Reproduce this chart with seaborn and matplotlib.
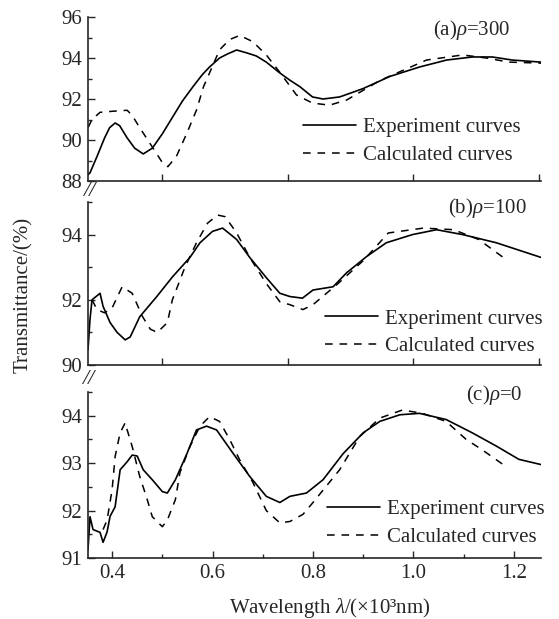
import numpy as np
import pandas as pd
import matplotlib
matplotlib.use("Agg")
import matplotlib.pyplot as plt
import seaborn as sns
from matplotlib.ticker import MultipleLocator, FixedLocator, NullFormatter

# ---------------- data ----------------
# panel (a) rho = 300
a_exp_wl = [0.352, 0.356, 0.37, 0.385, 0.395, 0.406, 0.415, 0.43, 0.445, 0.462, 0.48, 0.50, 0.52,
            0.54, 0.561, 0.58, 0.594, 0.614, 0.63, 0.648, 0.668, 0.687, 0.707, 0.734, 0.755,
            0.774, 0.799, 0.82, 0.853, 0.899, 0.953, 1.012, 1.066, 1.117, 1.157, 1.197, 1.254]
a_exp_t = [88.3, 88.4, 89.2, 90.1, 90.6, 90.83, 90.7, 90.1, 89.6, 89.32, 89.6, 90.3, 91.1,
           91.9, 92.6, 93.2, 93.56, 94.0, 94.2, 94.39, 94.25, 94.1, 93.8, 93.27, 92.9,
           92.6, 92.1, 92.0, 92.1, 92.5, 93.1, 93.56, 93.9, 94.05, 94.05, 93.9, 93.8]
a_calc_wl = [0.352, 0.36, 0.376, 0.40, 0.43, 0.44, 0.455, 0.48, 0.50, 0.511, 0.528, 0.549, 0.568,
             0.582, 0.594, 0.614, 0.634, 0.654, 0.68, 0.707, 0.734, 0.767, 0.799, 0.833, 0.867,
             0.933, 1.026, 1.098, 1.145, 1.19, 1.254]
a_calc_t = [90.6, 91.0, 91.35, 91.4, 91.45, 91.2, 90.6, 89.66, 88.9, 88.7, 89.2, 90.34, 91.46,
            92.6, 93.27, 94.4, 94.9, 95.1, 94.8, 94.15, 93.3, 92.2, 91.8, 91.7, 91.95,
            92.9, 93.9, 94.15, 94.0, 93.8, 93.75]

# panel (b) rho = 100
b_exp_wl = [0.352, 0.356, 0.36, 0.368, 0.376, 0.382, 0.396, 0.41, 0.426, 0.436, 0.455, 0.489,
            0.52, 0.555, 0.575, 0.60, 0.62, 0.648, 0.674, 0.707, 0.734, 0.754, 0.779, 0.80,
            0.84, 0.867, 0.907, 0.946, 0.998, 1.046, 1.098, 1.165, 1.254]
b_exp_t = [90.46, 91.4, 92.0, 92.1, 92.2, 91.8, 91.3, 91.0, 90.77, 90.86, 91.48, 92.1,
           92.7, 93.3, 93.75, 94.1, 94.2, 93.85, 93.3, 92.68, 92.2, 92.1, 92.05, 92.3,
           92.4, 92.83, 93.33, 93.75, 94.0, 94.15, 94.0, 93.75, 93.3]
b_calc_wl = [0.36, 0.37, 0.385, 0.40, 0.42, 0.44, 0.46, 0.476, 0.49, 0.51, 0.52, 0.545, 0.568,
             0.59, 0.61, 0.625, 0.648, 0.674, 0.707, 0.734, 0.754, 0.78, 0.80, 0.85, 0.90,
             0.95, 1.02, 1.08, 1.13, 1.185]
b_calc_t = [92.0, 91.7, 91.6, 91.75, 92.4, 92.2, 91.5, 91.1, 91.0, 91.3, 92.0, 93.0, 93.75,
            94.35, 94.6, 94.55, 94.05, 93.3, 92.5, 91.94, 91.85, 91.7, 91.85, 92.5, 93.2,
            94.05, 94.2, 94.15, 93.85, 93.23]

# panel (c) rho = 0
c_exp_wl = [0.352, 0.356, 0.362, 0.376, 0.382, 0.39, 0.396, 0.406, 0.416, 0.43, 0.44, 0.45,
            0.462, 0.48, 0.50, 0.51, 0.526, 0.549, 0.568, 0.588, 0.608, 0.64, 0.674, 0.707,
            0.734, 0.754, 0.787, 0.82, 0.86, 0.90, 0.933, 0.973, 1.012, 1.065, 1.117, 1.165,
            1.21, 1.254]
c_exp_t = [91.18, 91.87, 91.6, 91.54, 91.33, 91.55, 91.88, 92.08, 92.86, 93.03, 93.17, 93.15,
           92.86, 92.65, 92.4, 92.37, 92.65, 93.2, 93.7, 93.78, 93.7, 93.22, 92.72, 92.3,
           92.17, 92.3, 92.37, 92.65, 93.2, 93.64, 93.88, 94.02, 94.05, 93.92, 93.64, 93.36,
           93.08, 92.97]
c_calc_wl = [0.382, 0.39, 0.40, 0.406, 0.416, 0.426, 0.43, 0.44, 0.455, 0.47, 0.48, 0.50, 0.51,
             0.526, 0.535, 0.555, 0.575, 0.594, 0.614, 0.634, 0.654, 0.68, 0.707, 0.734, 0.754,
             0.78, 0.80, 0.853, 0.893, 0.933, 0.978, 1.018, 1.065, 1.105, 1.137, 1.184]
c_calc_t = [91.6, 91.8, 92.44, 93.14, 93.64, 93.85, 93.7, 93.35, 92.72, 92.23, 91.87, 91.66, 91.8,
            92.23, 92.8, 93.35, 93.78, 93.98, 93.88, 93.5, 93.07, 92.6, 92.0, 91.74, 91.77,
            91.92, 92.17, 92.86, 93.56, 93.95, 94.12, 94.05, 93.88, 93.5, 93.28, 92.93]

panel_labels = ["(a)", "(b)", "(c)"]
rho_values = ["300", "100", "0"]
legend_labels = ["Experiment curves", "Calculated curves"]
c_xticks = [0.4, 0.6, 0.8, 1.0, 1.2]
c_xtick_labels = ["0.4", "0.6", "0.8", "1.0", "1.2"]
ab_xticks = [0.5, 0.75, 1.0, 1.25]

# ---------------- style ----------------
sns.set_style("ticks")
plt.rcParams["font.family"] = ["Liberation Serif", "DejaVu Serif"]
plt.rcParams["mathtext.fontset"] = "custom"
plt.rcParams["mathtext.rm"] = "Liberation Serif"
plt.rcParams["mathtext.it"] = "Liberation Serif:italic"
plt.rcParams["axes.linewidth"] = 1.2
FS = 15

fig = plt.figure(figsize=(5.59, 6.19), dpi=100)
W, H = 559.0, 619.0
left = 88 / W
width = (541 - 88) / W

def ax_at(top_px, bot_px):
    return fig.add_axes([left, 1 - bot_px / H, width, (bot_px - top_px) / H])

ax_a = ax_at(17, 181)
ax_b = ax_at(202, 365)
ax_c = ax_at(392, 558)

panels = [
    (ax_a, a_exp_wl, a_exp_t, a_calc_wl, a_calc_t, (88, 96), 2, 1, (0.4746, 0.385), (0.932, 0.921)),
    (ax_b, b_exp_wl, b_exp_t, b_calc_wl, b_calc_t, (90, 95), 2, 1, (0.523, 0.344), (0.969, 0.963)),
    (ax_c, c_exp_wl, c_exp_t, c_calc_wl, c_calc_t, (91, 94.5), 1, 0.5, (0.527, 0.35), (0.960, 0.982)),
]

for i, (ax, ew, et, cw, ct, ylim, ymaj, ymin, legpos, labpos) in enumerate(panels):
    df_e = pd.DataFrame({"wl": ew, "t": et})
    df_c = pd.DataFrame({"wl": cw, "t": ct})
    sns.lineplot(data=df_e, x="wl", y="t", ax=ax, color="black", lw=1.2,
                 sort=False, estimator=None, label=legend_labels[0])
    sns.lineplot(data=df_c, x="wl", y="t", ax=ax, color="black", lw=1.1,
                 sort=False, estimator=None, label=legend_labels[1], dashes=False)
    ax.lines[1].set_dashes((5, 4.5))
    ax.set_xlim(0.352, 1.254)
    ax.set_ylim(*ylim)
    ax.set_xlabel("")
    ax.set_ylabel("")
    for s in ["top", "right"]:
        ax.spines[s].set_visible(False)
    ax.yaxis.set_major_locator(MultipleLocator(ymaj))
    ax.yaxis.set_minor_locator(MultipleLocator(ymin))
    ax.tick_params(axis="both", which="major", direction="in", length=5, width=1.0,
                   labelsize=FS, pad=4)
    ax.tick_params(axis="both", which="minor", direction="in", length=3, width=1.0)
    if i < 2:
        ax.xaxis.set_major_locator(FixedLocator(ab_xticks))
        ax.xaxis.set_major_formatter(NullFormatter())
        ax.xaxis.set_minor_locator(FixedLocator([]))
    else:
        ax.set_xticks(c_xticks)
        ax.set_xticklabels(c_xtick_labels)
        ax.xaxis.set_minor_locator(FixedLocator([0.5, 0.7, 0.9, 1.1]))
    ax.legend(loc="upper left", bbox_to_anchor=legpos, frameon=False, fontsize=FS,
              handlelength=2.55, handletextpad=0.35, borderpad=0, borderaxespad=0,
              labelspacing=0.4)
    ax.text(labpos[0], labpos[1], panel_labels[i] + r"$\rho$=" + rho_values[i],
            transform=ax.transAxes, ha="right", va="center", fontsize=FS)

fig.text(23 / W, 1 - 295 / H, "Transmittance/(%)", rotation=90, ha="center", va="center",
         fontsize=FS)
fig.text(330 / W, 1 - 608 / H, r"Wavelength $\lambda$/(×10³nm)", ha="center", va="center",
         fontsize=FS)

# axis break marks
fig.text(89 / W, 1 - 191 / H, "//", ha="center", va="center", fontsize=16, style="italic")
fig.text(88 / W, 1 - 380 / H, "//", ha="center", va="center", fontsize=16, style="italic")

fig.savefig("out.png", dpi=100)
